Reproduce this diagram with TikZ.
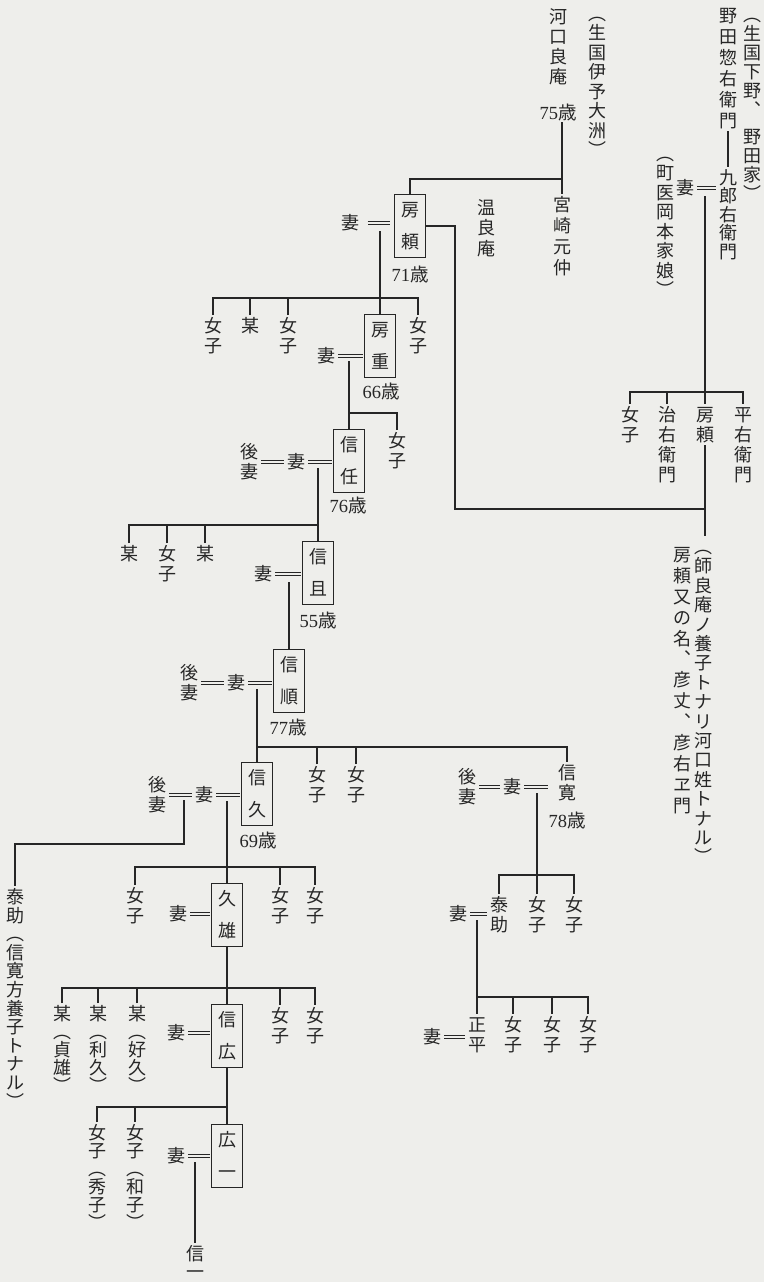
\documentclass[tikz,border=0pt]{standalone}
\usepackage{fontspec}
\usepackage{xcolor}
\usepackage{tikz}
\usetikzlibrary{calc}
\newfontfamily\cjk{Noto Sans CJK JP}
\newfontfamily\numf{Liberation Serif}
\definecolor{kamiGray}{HTML}{EEEEEB}
\definecolor{sumiInk}{HTML}{262626}
% vertical column of characters, #1 = pitch
\makeatletter
\newcommand\tate[2][20pt]{\vbox{\baselineskip=#1\relax\lineskiplimit=-100pt\lineskip=0pt
  \@tfor\tate@c:=#2\do{%
    \hbox to 1em{\vrule height .88em depth .12em width 0pt\hss\tate@c\hss}}}}
\makeatother
\newcommand\sai[1]{{\numf #1}歳}

\begin{document}
\begin{tikzpicture}[
  x=1pt, y=-1pt, line width=1.1pt, color=sumiInk,
  every node/.style={font={\cjk\fontsize{18}{20}\selectfont}, inner sep=1pt},
  col/.style={anchor=north},
  mbox/.style={draw, line width=1pt, minimum width=31pt, minimum height=63pt, inner sep=0pt},
  age/.style={font={\cjk\fontsize{18.5}{20}\selectfont}},
  marry/.style={double=kamiGray, double distance=2.6pt, line width=0.8pt, shorten <=1.5pt, shorten >=1.5pt},
]
  \useasboundingbox (0,0) rectangle (764,1282);
  \fill[kamiGray] (0,0) rectangle (764,1282);

  % Noda
  \node[col] (nodaorigA) at (752,4) {\tate[19pt]{︵生国下野︑}};
  \node[col] (nodaorigB) at (752,126) {\tate[19pt]{野田家︶}};
  \node[col] (souemon) at (728,5) {\tate[21pt]{野田惣右衛門}};
  \node[col] (kurou) at (728,167) {\tate[18.5pt]{九郎右衛門}};
  \node (nodawife) at (685,188) {妻};
  \node[col] (nodawifeorig) at (665,143) {\tate[19.5pt]{︵町医岡本家娘︶}};
  \node[col] (nc1) at (630,404) {\tate{女子}};
  \node[col] (nc2) at (667,404) {\tate{治右衛門}};
  \node[col] (noda) at (705,404) {\tate{房頼}};
  \node[col] (nc4) at (743,404) {\tate{平右衛門}};
  \node[col] (note1) at (703,536) {\tate[19.4pt]{︵師良庵ノ養子トナリ河口姓トナル︶}};
  \node[col] (note2) at (682,544) {\tate[20.9pt]{房頼又の名︑彦丈︑彦右ヱ門}};

  % Kawaguchi
  \node[col] (ryoan) at (558,6) {\tate{河口良庵}};
  \node[age] (ryoanage) at (558,112) {\sai{75}};
  \node[col] (ryoanorig) at (597,3) {\tate[19.5pt]{︵生国伊予大洲︶}};
  \node[col] (miyazaki) at (562,194) {\tate[21pt]{宮崎元仲}};
  \node[col] (onryoan) at (486,197) {\tate[20.5pt]{温良庵}};
  \node[mbox] (fusayori) at (410,226) {\tate[32pt]{房頼}};
  \node[age] (fyage) at (410,274) {\sai{71}};
  \node (fywife) at (350,223) {妻};
  \node[col] (fc1) at (213,315) {\tate{女子}};
  \node[col] (fc2) at (250,315) {\tate{某}};
  \node[col] (fc3) at (288,315) {\tate{女子}};
  \node[col] (fc5) at (418,315) {\tate{女子}};
  \node[mbox] (fusashige) at (380,346) {\tate[32pt]{房重}};
  \node[age] (fsage) at (381,391) {\sai{66}};
  \node (fswife) at (326,356) {妻};
  \node[col] (fsc) at (397,430) {\tate{女子}};
  \node[mbox] (nobutou) at (349,461) {\tate[32pt]{信任}};
  \node[age] (ntage) at (348,505) {\sai{76}};
  \node (ntwife) at (296,462) {妻};
  \node (ntwife2) at (249,462) {\tate{後妻}};
  \node[col] (ntc1) at (129,543) {\tate{某}};
  \node[col] (ntc2) at (167,543) {\tate{女子}};
  \node[col] (ntc3) at (205,543) {\tate{某}};
  \node[mbox] (nobukatsu) at (318,573) {\tate[32pt]{信且}};
  \node[age] (nkage) at (318,620) {\sai{55}};
  \node (nkwife) at (263,574) {妻};
  \node[mbox] (nobuyori) at (289,681) {\tate[32pt]{信順}};
  \node[age] (nyage) at (288,727) {\sai{77}};
  \node (nywife) at (236,683) {妻};
  \node (nywife2) at (189,683) {\tate{後妻}};
  \node[col] (nyc2) at (317,764) {\tate{女子}};
  \node[col] (nyc3) at (356,764) {\tate{女子}};
  \node[col] (shinkan) at (567,762) {\tate{信寛}};
  \node[age] (skage) at (567,820) {\sai{78}};
  \node[mbox] (nobuhisa) at (257,794) {\tate[32pt]{信久}};
  \node[age] (nhage) at (258,840) {\sai{69}};
  \node (nhwife) at (204,795) {妻};
  \node (nhwife2) at (157,795) {\tate{後妻}};
  \node[col] (yasusuke1) at (15,886) {\tate[18.6pt]{泰助︵信寛方養子トナル︶}};
  \node[col] (nhc1) at (135,885) {\tate{女子}};
  \node[col] (nhc2) at (280,885) {\tate{女子}};
  \node[col] (nhc3) at (315,885) {\tate{女子}};
  \node[mbox] (hisao) at (227,915) {\tate[32pt]{久雄}};
  \node (hswife) at (178,914) {妻};
  \node[col] (hc1) at (62,1003) {\tate[18pt]{某︵貞雄︶}};
  \node[col] (hc2) at (98,1003) {\tate[18pt]{某︵利久︶}};
  \node[col] (hc3) at (137,1003) {\tate[18pt]{某︵好久︶}};
  \node[col] (hc4) at (280,1005) {\tate{女子}};
  \node[col] (hc5) at (315,1005) {\tate{女子}};
  \node[mbox] (shinkou) at (227,1036) {\tate[32pt]{信広}};
  \node (srwife) at (176,1033) {妻};
  \node[col] (sc1) at (97,1122) {\tate[18pt]{女子︵秀子︶}};
  \node[col] (sc2) at (135,1122) {\tate[18pt]{女子︵和子︶}};
  \node[mbox] (hirokazu) at (227,1156) {\tate[32pt]{広一}};
  \node (hkwife) at (176,1156) {妻};
  \node[col] (nobukazu) at (195,1243) {\tate[18pt]{信一}};

  % Shinkan line
  \node (skwife) at (512,787) {妻};
  \node (skwife2) at (467,787) {\tate{後妻}};
  \node[col] (yasusuke2) at (499,894) {\tate{泰助}};
  \node[col] (skc2) at (537,894) {\tate{女子}};
  \node[col] (skc3) at (574,894) {\tate{女子}};
  \node (yswife) at (458,914) {妻};
  \node[col] (shohei) at (477,1014) {\tate{正平}};
  \node[col] (spc2) at (513,1014) {\tate{女子}};
  \node[col] (spc3) at (552,1014) {\tate{女子}};
  \node[col] (spc4) at (588,1014) {\tate{女子}};
  \node (spwife) at (432,1037) {妻};

  % marriages
  \foreach \w/\h in {nodawife/kurou, fswife/fusashige, ntwife2/ntwife, ntwife/nobutou,
      nkwife/nobukatsu, nywife2/nywife, nywife/nobuyori, nhwife2/nhwife, nhwife/nobuhisa,
      hswife/hisao, srwife/shinkou, hkwife/hirokazu, skwife2/skwife, yswife/yasusuke2,
      spwife/shohei}
    \draw[marry] (\w.east) -- (\w.east -| \h.west);
  \draw[marry, shorten <=7pt, shorten >=4pt] (fywife.east) -- (fywife.east -| fusayori.west);
  \draw[marry, shorten >=8pt] (skwife.east) -- (skwife.east -| shinkan.west);

  % descent points
  \coordinate (nodamid) at (705,196);
  \coordinate (fymid) at (380,231);
  \coordinate (fsmid) at (349,361);
  \coordinate (ntmid) at (318,468);
  \coordinate (nkmid) at (289,582);
  \coordinate (nymid) at (257,689);
  \coordinate (nhmid1) at (184,800);
  \coordinate (nhmid2) at (227,801);
  \coordinate (hkmid) at (195,1162);
  \coordinate (skmid) at (537,793);
  \coordinate (ysmid) at (477,920);
  \coordinate (adopt) at (455,509);
  \foreach \m/\c in {nodamid/noda, fymid/fusashige, fsmid/nobutou, ntmid/nobukatsu,
      nkmid/nobuyori, nymid/nobuhisa, nhmid2/hisao, hkmid/nobukazu, skmid/skc2, ysmid/shohei}
    \draw (\m) -- (\m |- \c.north);

  \draw (souemon) -- (kurou);
  \draw (nc1.north) |- (nc4.north |- 0,392) -- (nc4.north);
  \draw (nc2.north) -- (nc2.north |- 0,392);
  \draw (noda.south) -- (noda.south |- note1.north);
  \draw (fusayori.east) -| (adopt) -- (adopt -| noda.south);

  \draw (miyazaki.north |- ryoanage.south) -- (miyazaki.north);
  \draw (fusayori.north) |- (miyazaki.north |- 0,179);
  \draw (fc1.north) |- (fc5.north |- 0,298) -- (fc5.north);
  \foreach \c in {fc2,fc3} \draw (\c.north) -- (\c.north |- 0,298);
  \draw (fsmid |- 0,413) -| (fsc.north);
  \draw (ntc1.north) |- (ntmid |- 0,525);
  \foreach \c in {ntc2,ntc3} \draw (\c.north) -- (\c.north |- 0,525);
  \draw (nymid |- 0,747) -| (shinkan.north);
  \foreach \c in {nyc2,nyc3} \draw (\c.north) -- (\c.north |- 0,747);
  \draw (nhmid1) |- (yasusuke1.north |- 0,844) -- (yasusuke1.north);
  \draw (nhc1.north) |- (nhc3.north |- 0,867) -- (nhc3.north);
  \draw (nhc2.north) -- (nhc2.north |- 0,867);
  \draw (hisao) -- (shinkou);
  \draw (hc1.north) |- (hc5.north |- 0,988) -- (hc5.north);
  \foreach \c in {hc2,hc3,hc4} \draw (\c.north) -- (\c.north |- 0,988);
  \draw (shinkou) -- (hirokazu);
  \draw (sc1.north) |- (shinkou.south |- 0,1107);
  \draw (sc2.north) -- (sc2.north |- 0,1107);
  \draw (yasusuke2.north) |- (skc3.north |- 0,875) -- (skc3.north);
  \draw (ysmid |- 0,997) -| (spc4.north);
  \foreach \c in {spc2,spc3} \draw (\c.north) -- (\c.north |- 0,997);
\end{tikzpicture}
\end{document}
